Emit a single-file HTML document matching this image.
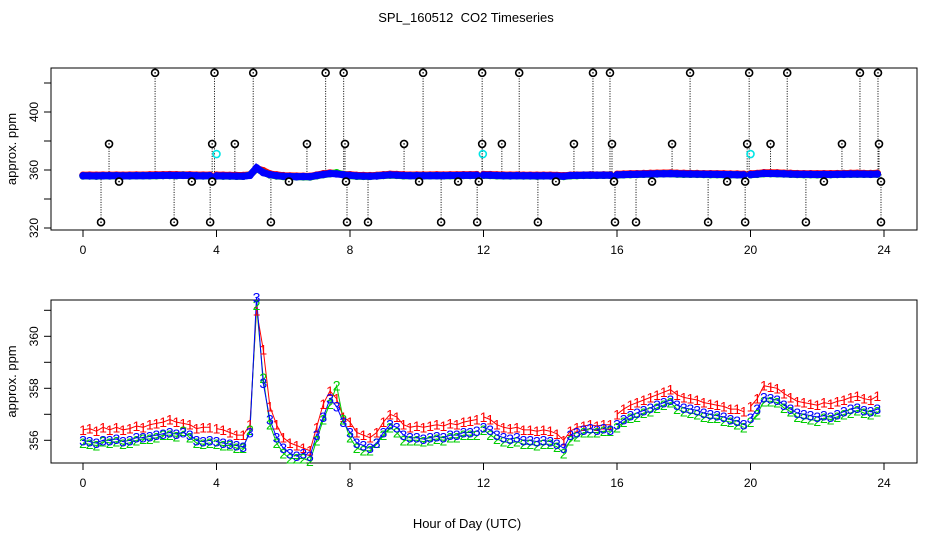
<!DOCTYPE html>
<html><head><meta charset="utf-8"><style>
body{margin:0;background:#fff}
svg{display:block;font-family:"Liberation Sans",sans-serif}
</style></head><body>
<svg id="chart" width="936" height="540" viewBox="0 0 936 540">
<rect width="936" height="540" fill="#fff"/>
<text x="466" y="22" font-size="13" text-anchor="middle" style="white-space:pre">SPL_160512  CO2 Timeseries</text>
<text x="467" y="528" font-size="13" text-anchor="middle">Hour of Day (UTC)</text>
<g id="top"></g>
<g id="bot"></g>
</svg>
<script>
const hourStep = 0.2;
const xTicks = [0,4,8,12,16,20,24];
const topYTicks = [320,340,360,380,400,420];
const topYLabels = [320,360,400];
const botYTicks = [356,357,358,359,360,361];
const botYLabels = [356,358,360];
const gapAfter = [3.8,11.8,15.8,19.8];
const series3 = [356.0,355.95,355.9,356.0,356.0,356.05,355.95,356.0,356.1,356.1,356.15,356.2,356.25,356.3,356.25,356.3,356.2,356.0,355.95,356.0,
355.95,355.9,355.85,355.8,355.75,356.3,361.5,358.2,356.8,356.1,355.7,355.5,355.4,355.5,355.4,356.2,356.9,357.6,357.3,356.7,
356.3,355.9,355.8,355.7,355.9,356.3,356.6,356.5,356.2,356.1,356.1,356.05,356.1,356.15,356.1,356.2,356.2,356.3,356.3,356.35,
356.5,356.4,356.2,356.1,356.05,356.1,356.0,356.0,355.95,356.0,355.95,355.85,355.7,356.2,356.3,356.4,356.45,356.4,356.45,356.4,
356.6,356.8,356.95,357.05,357.15,357.25,357.35,357.45,357.55,357.35,357.25,357.2,357.15,357.05,357.0,356.95,356.9,356.8,356.75,356.6,
356.85,357.2,357.65,357.6,357.55,357.35,357.2,357.05,357.0,356.95,356.9,356.95,356.9,357.0,357.1,357.2,357.25,357.15,357.1,357.2];
const series2 = [355.9,355.85,355.8,355.95,355.9,355.95,355.85,355.9,356.0,356.05,356.05,356.1,356.2,356.2,356.15,356.35,356.1,355.9,355.85,355.9,
355.85,355.8,355.8,355.7,355.7,356.4,361.2,358.4,356.6,355.9,355.5,355.3,355.3,355.3,355.2,356.0,356.8,357.4,358.1,356.8,
356.1,355.7,355.6,355.6,355.9,356.2,356.5,356.3,356.0,356.0,356.0,355.95,356.0,356.05,356.0,356.1,356.1,356.2,356.2,356.2,
356.4,356.2,356.05,355.95,355.9,355.95,355.85,355.85,355.8,355.85,355.85,355.75,355.5,356.0,356.15,356.3,356.3,356.3,356.35,356.35,
356.5,356.7,356.85,356.9,357.05,357.1,357.25,357.35,357.45,357.2,357.1,357.05,357.0,356.9,356.85,356.85,356.75,356.7,356.6,356.5,
356.7,357.0,357.5,357.5,357.45,357.25,357.1,356.9,356.85,356.8,356.75,356.85,356.8,356.9,357.0,357.05,357.15,357.05,357.0,357.1];
const series1 = [356.4,356.45,356.35,356.5,356.4,356.5,356.4,356.45,356.55,356.5,356.6,356.65,356.7,356.8,356.7,356.65,356.6,356.45,356.5,356.5,
356.45,356.4,356.3,356.2,356.2,356.6,361.0,359.5,357.3,356.6,356.1,355.9,355.8,355.7,355.6,356.5,357.4,357.9,357.6,356.9,
356.7,356.3,356.2,356.1,356.3,356.7,357.0,356.9,356.6,356.5,356.55,356.5,356.55,356.6,356.55,356.65,356.6,356.7,356.75,356.8,
356.9,356.8,356.6,356.5,356.45,356.5,356.4,356.4,356.35,356.4,356.35,356.25,356.0,356.35,356.5,356.55,356.6,356.55,356.6,356.6,
357.0,357.2,357.35,357.45,357.55,357.65,357.75,357.85,357.95,357.75,357.65,357.6,357.55,357.45,357.4,357.35,357.3,357.2,357.2,357.1,
357.3,357.6,358.1,358.05,358.0,357.8,357.65,357.5,357.45,357.4,357.35,357.45,357.4,357.5,357.55,357.65,357.7,357.6,357.55,357.7];
const outlierHours = [2.16,3.94,5.1,7.27,7.81,10.19,11.96,13.07,15.28,15.79,18.19,19.96,21.1,23.28,23.82,
0.78,3.87,4.55,6.71,7.85,9.62,11.96,12.55,14.71,15.85,17.65,19.9,20.6,22.74,23.85,
1.08,3.26,3.87,6.17,7.88,10.07,11.24,11.86,14.17,15.91,17.05,19.3,19.84,22.2,23.91,
0.54,2.73,3.81,5.63,7.91,8.54,10.73,11.81,13.63,15.94,16.57,18.73,19.84,21.66,23.91];
const outlierValues = [427,427,427,427,427,427,427,427,427,427,427,427,427,427,427,
378,378,378,378,378,378,378,378,378,378,378,378,378,378,378,
352,352,352,352,352,352,352,352,352,352,352,352,352,352,352,
324,324,324,324,324,324,324,324,324,324,324,324,324,324,324];
const cyanHours = [4.0,11.98,20.0];
const cyanValues = [371,371,371];

const NS="http://www.w3.org/2000/svg";
function mk(tag,attrs,parent){const e=document.createElementNS(NS,tag);for(const k in attrs)e.setAttribute(k,attrs[k]);parent.appendChild(e);return e;}
const X0=51,X1=917;
function xs(h){return 83+h*(884-83)/24;}
function topY(v){return 170-(v-360)*1.45;}
function botY(v){return 440.3-(v-356)*26;}
function hourAt(i){return Math.round(i*hourStep*10)/10;}

function frame(g,yTop,yBot,yFn,ticks,labels,name){
  const r=mk('rect',{x:X0,y:yTop,width:X1-X0,height:yBot-yTop,fill:'none',stroke:'#000','stroke-width':1},g);
  
  
  xTicks.forEach(t=>{
    const l=mk('line',{x1:xs(t),x2:xs(t),y1:yBot,y2:yBot+7,stroke:'#000'},g);
    
    
    const tx=mk('text',{x:xs(t),y:yBot+24,'font-size':12,'text-anchor':'middle'},g);
    tx.textContent=t;
    
    
  });
  ticks.forEach(t=>{
    const y=yFn(t); if(y<yTop-1||y>yBot+1)return;
    const l=mk('line',{x1:X0-7,x2:X0,y1:y,y2:y,stroke:'#000'},g);
    
    
  });
  labels.forEach(t=>{
    const y=yFn(t);
    const tx=mk('text',{x:0,y:0,'font-size':12,'text-anchor':'middle',transform:`translate(38,${y}) rotate(-90)`},g);
    tx.textContent=t;
    
    
  });
  const yl=mk('text',{x:0,y:0,'font-size':13,'text-anchor':'middle',transform:`translate(16,${(yTop+yBot)/2}) rotate(-90)`},g);
  yl.textContent='approx. ppm';
  
  
}
const topG=document.getElementById('top'), botG=document.getElementById('bot');
frame(topG,68,230,topY,topYTicks,topYLabels,'top');
frame(botG,300,463,botY,botYTicks,botYLabels,'bottom');

function pathFor(s,yFn){
  let d='';
  s.forEach((v,i)=>{
    const h=hourAt(i);
    const prevGap=i>0&&gapAfter.includes(hourAt(i-1));
    d+=(i===0||prevGap?'M':'L')+xs(h).toFixed(1)+','+yFn(v).toFixed(1)+' ';
  });
  return d;
}

outlierHours.forEach((h,i)=>{
  const v=outlierValues[i];
  const l=mk('line',{x1:xs(h),x2:xs(h),y1:topY(357),y2:topY(v),stroke:'#000','stroke-dasharray':'1,1.5','stroke-width':1},topG);
  
  
});
const colors=['#ff0000','#00cc00','#0000ff'];
const allSeries=[series1,series2,series3];
allSeries.forEach((s,k)=>{
  const p=mk('path',{d:pathFor(s,topY),fill:'none',stroke:colors[k],'stroke-width':7,'stroke-linecap':'round'},topG);
  
  
  s.forEach((v,i)=>{
    const c=mk('circle',{cx:xs(hourAt(i)),cy:topY(v),r:3,fill:'none',stroke:colors[k],'stroke-width':1.5},topG);
    
    
  });
});
outlierHours.forEach((h,i)=>{
  const c=mk('circle',{cx:xs(h),cy:topY(outlierValues[i]),r:3.5,fill:'#fff',stroke:'#000','stroke-width':1.6},topG);
  
  
  const d=mk('circle',{cx:xs(h),cy:topY(outlierValues[i]),r:0.8,fill:'#000'},topG);
  
  
});
cyanHours.forEach((h,i)=>{
  const c=mk('circle',{cx:xs(h),cy:topY(cyanValues[i]),r:3.5,fill:'none',stroke:'#00e5e5','stroke-width':1.6},topG);
  
  
});

allSeries.forEach((s,k)=>{
  const p=mk('path',{d:pathFor(s,botY),fill:'none',stroke:colors[k],'stroke-width':1},botG);
  
  
});
allSeries.forEach((s,k)=>{
  s.forEach((v,i)=>{
    const t=mk('text',{x:xs(hourAt(i)),y:botY(v)+5,'font-size':14,'text-anchor':'middle',fill:colors[k]},botG);
    t.textContent=String(k+1);
    
    
  });
});
</script>
</body></html>
